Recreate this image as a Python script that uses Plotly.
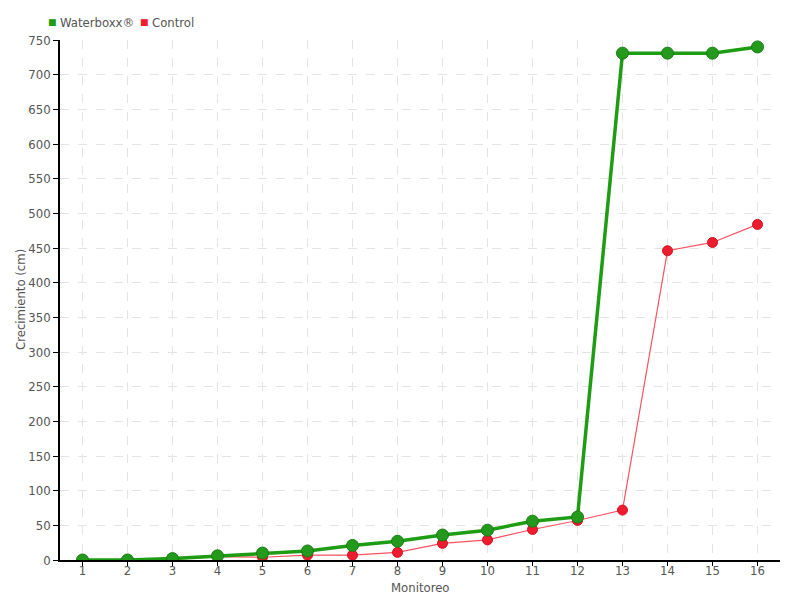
import plotly.graph_objects as go

monitoreo = list(range(1, 17))
waterboxx = [0, 0, 2, 6, 10, 13, 21, 27, 36, 43, 56, 62, 731, 731, 731, 740]
control = [0, 0, 1, 5, 4, 7, 7, 11, 24, 29, 44, 57, 72, 446, 458, 484]
series_names = ["Waterboxx®", "Control"]

FONT = "Liberation Sans Narrow, DejaVu Sans Condensed, Roboto, sans-serif"
GREEN = "#1e9c14"
GREEN_M = "#249a1c"
RED = "#ee1c2e"
RED_L = "#f7525f"
TXT = "#555555"

W, H = 792, 592
ML, MR, MT, MB = 52, 20, 32, 40
PW = W - ML - MR

fig = go.Figure()
fig.add_trace(go.Scatter(
    x=monitoreo, y=control, mode="lines+markers", name=series_names[1], showlegend=False,
    line=dict(color=RED_L, width=1.2),
    marker=dict(color=RED, size=10, line=dict(color="#d2121f", width=1)),
))
fig.add_trace(go.Scatter(
    x=monitoreo, y=waterboxx, mode="lines+markers", name=series_names[0], showlegend=False,
    line=dict(color=GREEN, width=3.5),
    marker=dict(color=GREEN_M, size=12, line=dict(color="#1a7a16", width=1)),
))

def px(xpix):
    # screen pixel (page has 8px body margin) -> paper x
    return (xpix - 8 - ML) / PW

legend_items = [(52, 58, series_names[0], GREEN), (144, 150, series_names[1], RED)]
for sq_x, tx_x, name, col in legend_items:
    fig.add_annotation(x=px(sq_x), y=1.0, xref="paper", yref="paper", yshift=18,
                       text="■", showarrow=False, xanchor="center", yanchor="middle",
                       font=dict(size=9, color=col, family="DejaVu Sans"))
    fig.add_annotation(x=px(tx_x), y=1.0, xref="paper", yref="paper", yshift=18,
                       text=name, showarrow=False, xanchor="left", yanchor="middle",
                       font=dict(size=13, color=TXT, family=FONT))

# axis titles
fig.add_annotation(x=px(20), y=0.5, xref="paper", yref="paper", text="Crecimiento (cm)",
                   textangle=-90, showarrow=False, xanchor="center", yanchor="middle",
                   font=dict(size=13, color=TXT, family=FONT))
fig.add_annotation(x=px(420), y=0, xref="paper", yref="paper", yshift=-27, text="Monitoreo",
                   showarrow=False, xanchor="center", yanchor="middle",
                   font=dict(size=13, color=TXT, family=FONT))

fig.update_layout(
    width=W, height=H,
    paper_bgcolor="white", plot_bgcolor="white",
    margin=dict(l=ML, r=MR, t=MT, b=MB, autoexpand=False),
    font=dict(family=FONT, size=14, color=TXT),
    showlegend=False,
)
fig.update_xaxes(
    range=[0.5, 16.5], tickmode="array", tickvals=monitoreo,
    ticktext=[str(v) for v in monitoreo],
    showline=True, linecolor="black", linewidth=1.5,
    ticks="outside", ticklen=4, tickcolor="black", ticklabelstandoff=-6,
    showgrid=True, gridcolor="#e4e4e4", griddash="dash", gridwidth=1,
    zeroline=False, automargin=False,
    tickfont=dict(size=13, color=TXT),
)
fig.update_yaxes(
    range=[0, 750], tickmode="linear", tick0=0, dtick=50,
    showline=True, linecolor="black", linewidth=1.5,
    ticks="outside", ticklen=5, tickcolor="black",
    showgrid=True, gridcolor="#e4e4e4", griddash="dash", gridwidth=1,
    zeroline=False, automargin=False,
    tickfont=dict(size=13, color=TXT),
)

fig.write_html("out.html")
